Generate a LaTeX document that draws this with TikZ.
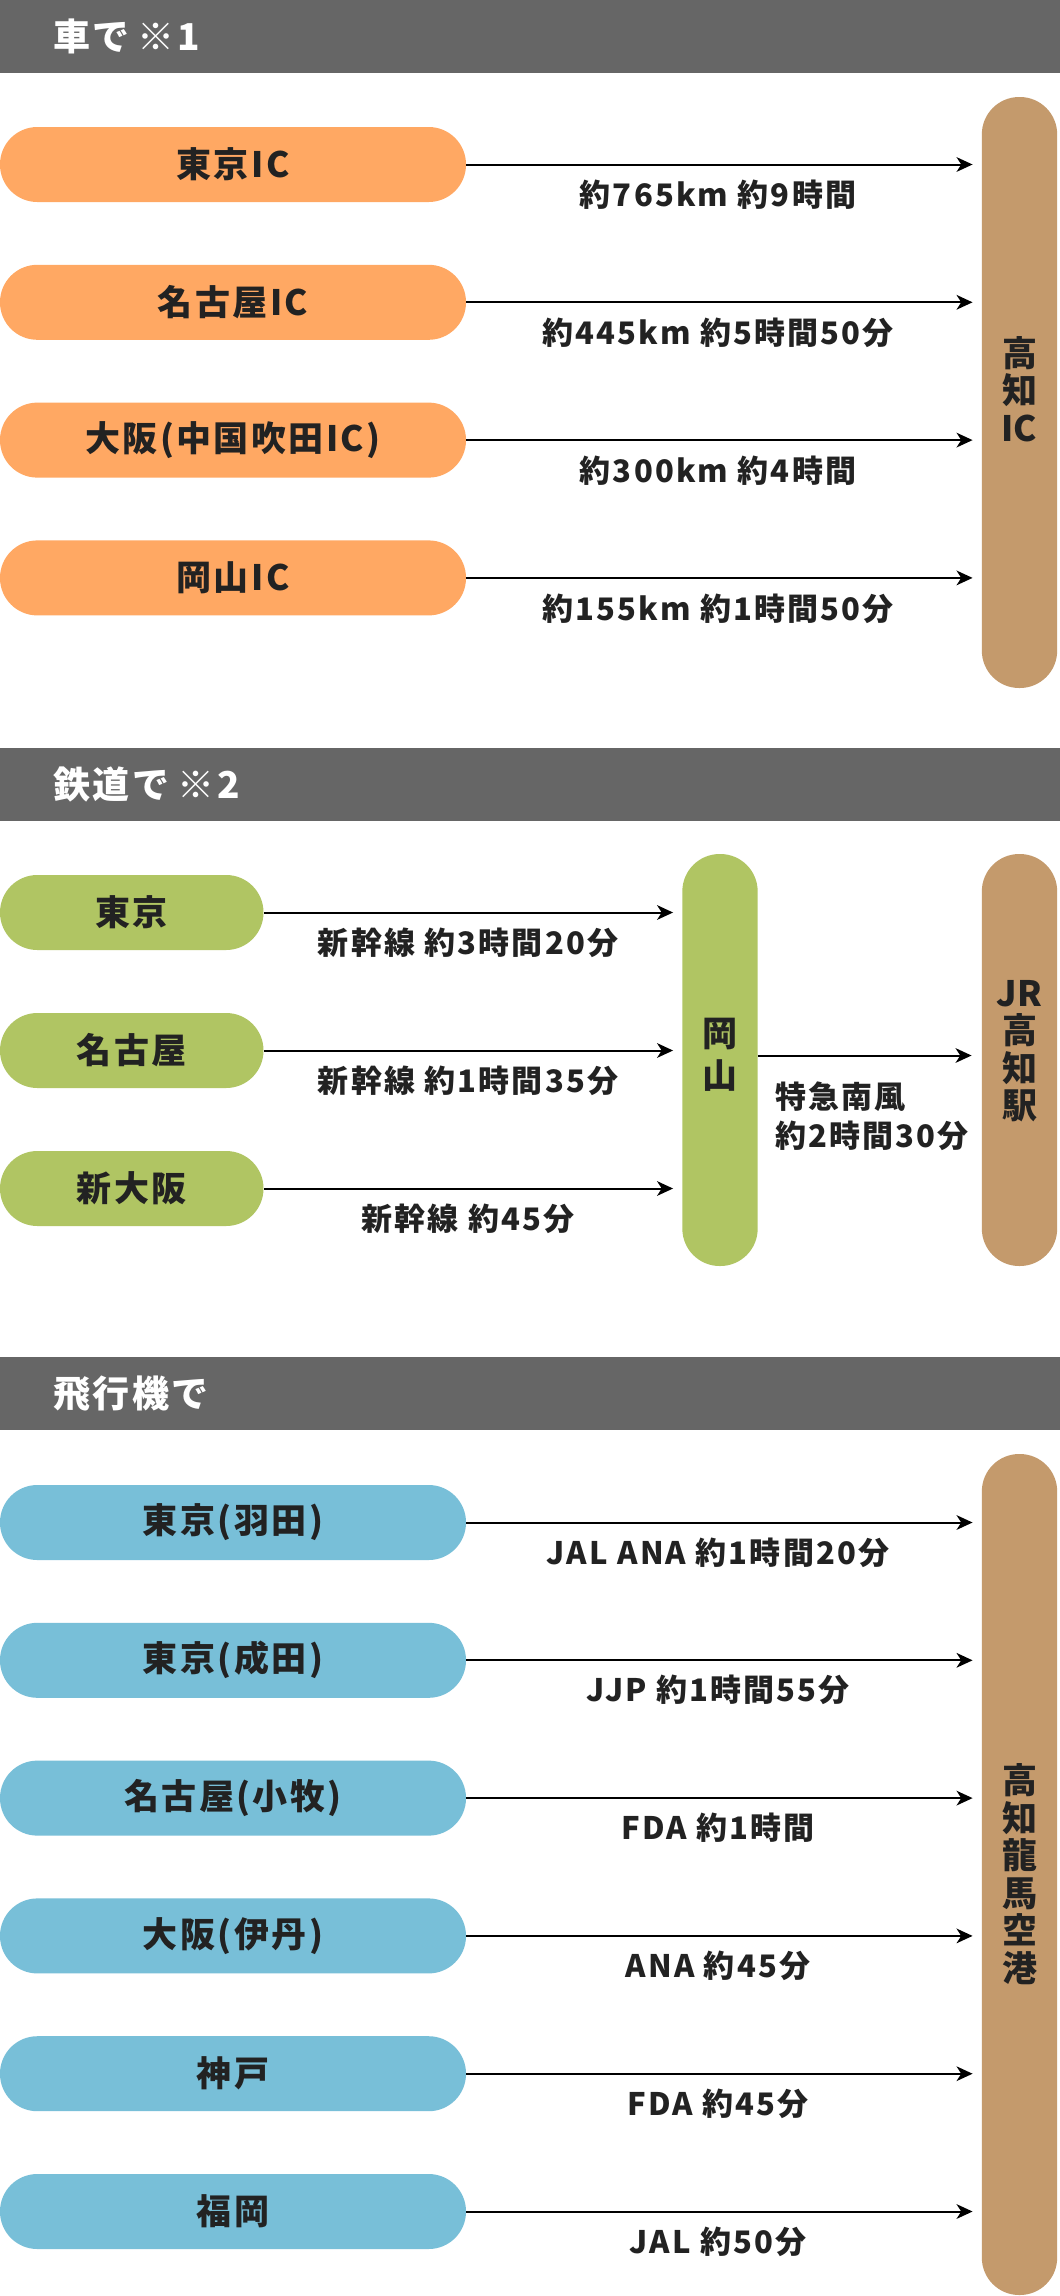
\documentclass[tikz,border=0pt]{standalone}
\usepackage{fontspec}
\setmainfont{Noto Sans CJK JP}
\newfontfamily\spacedfam{Noto Sans CJK JP}[LetterSpace=7]
\usetikzlibrary{arrows.meta,calc}
\definecolor{hdrgray}{HTML}{666666}
\definecolor{carorange}{HTML}{FFA863}
\definecolor{railgreen}{HTML}{B0C563}
\definecolor{airblue}{HTML}{78BFD8}
\definecolor{goalbrown}{HTML}{C49A6C}
\definecolor{inkc}{HTML}{222222}
\newcommand\hdrf{\spacedfam\bfseries\fontsize{27.75pt}{30pt}\selectfont}
\newcommand\pillf{\spacedfam\bfseries\fontsize{26.25pt}{28pt}\selectfont}
\newcommand\lblf{\spacedfam\bfseries\fontsize{23.25pt}{29.25pt}\selectfont}
\newcommand\barf{\bfseries\fontsize{26.25pt}{28.1pt}\selectfont}
\tikzset{
  hdrband/.style={fill=hdrgray, draw=none, minimum width=795pt, minimum height=54.75pt, anchor=north west, inner sep=0},
  hdrtxt/.style={anchor=west, text=white, font=\hdrf, inner sep=0},
  pillbox/.style={minimum height=56.25pt, rounded corners=28pt, inner sep=0, text=inkc, font=\pillf, draw=none},
  widepill/.style={pillbox, minimum width=349.5pt},
  narrowpill/.style={pillbox, minimum width=197.6pt},
  goalbar/.style={fill=goalbrown, rounded corners=28pt, draw=none, minimum width=56.5pt, inner sep=0},
  bartxt/.style={align=center, text=inkc, font=\barf, inner sep=0},
  arr/.style={-{Stealth[length=12pt,width=11pt,inset=3.5pt]}, line width=1.5pt, black, shorten >=6.75pt},
  lbl/.style={text=inkc, font=\lblf, inner sep=0},
}
\begin{document}
\begin{tikzpicture}[x=0.75pt,y=-0.75pt]
\useasboundingbox (0,0) rectangle (1060,2296);
\fill[white] (0,0) rectangle (1060,2296);

% ---------- car ----------
\node[hdrband] (h1) at (0,0) {};
\node[hdrtxt] (h1t) at (53,36.5) {車で\hspace{6pt}※1};
\node[goalbar, minimum height=443.25pt] (kic) at (1019.5,392.5) {};
\node[bartxt] (kict) at (1019.5,389) {高\\知\\IC};

\node[widepill, fill=carorange] (c1) at (233,164.5) {東京IC};
\node[widepill, fill=carorange] (c2) at (233,302.3) {名古屋IC};
\node[widepill, fill=carorange] (c3) at (233,440.1) {大阪(中国吹田IC)};
\node[widepill, fill=carorange] (c4) at (233,577.9) {岡山IC};
\foreach \n in {c1,c2,c3,c4} \draw[arr] (\n.east) -- (\n.east -| kic.west);
\node[lbl] (cl1) at (718,195) {約765km 約9時間};
\node[lbl] (cl2) at (718,332.8) {約445km 約5時間50分};
\node[lbl] (cl3) at (718,470.6) {約300km 約4時間};
\node[lbl] (cl4) at (718,608.4) {約155km 約1時間50分};

% ---------- rail ----------
\node[hdrband] (h2) at (0,748) {};
\node[hdrtxt] (h2t) at (53,784.5) {鉄道で\hspace{6pt}※2};
\node[goalbar, fill=railgreen, minimum height=309pt] (oka) at (720,1060) {};
\node[bartxt, font=\bfseries\fontsize{26.25pt}{31.5pt}\selectfont] (okat) at (720,1055) {岡\\山};
\node[goalbar, minimum height=309pt] (jr) at (1019.5,1060) {};
\node[bartxt] (jrt) at (1019.5,1051) {JR\\高\\知\\駅};

\node[narrowpill, fill=railgreen] (r1) at (131.75,912.5) {東京};
\node[narrowpill, fill=railgreen] (r2) at (131.75,1050.5) {名古屋};
\node[narrowpill, fill=railgreen] (r3) at (131.75,1188.5) {新大阪};
\foreach \n in {r1,r2,r3} \draw[arr] (\n.east) -- (\n.east -| oka.west);
\node[lbl] (rl1) at (468,942.5) {新幹線 約3時間20分};
\node[lbl] (rl2) at (468,1080.5) {新幹線 約1時間35分};
\node[lbl] (rl3) at (468,1218.5) {新幹線 約45分};
\draw[arr, shorten >=7.5pt] ($(oka.east)+(0,-4.5)$) -- ($(jr.west)+(0,-4.5)$);
\node[lbl, anchor=west, align=left] (rl4) at (775,1116.5) {特急南風\\約2時間30分};

% ---------- air ----------
\node[hdrband] (h3) at (0,1357) {};
\node[hdrtxt] (h3t) at (53,1393.5) {飛行機で};
\node[goalbar, minimum height=630.75pt] (kap) at (1019.5,1874.5) {};
\node[bartxt] (kapt) at (1019.5,1874) {高\\知\\龍\\馬\\空\\港};

\node[widepill, fill=airblue] (a1) at (233,1522.5) {東京(羽田)};
\node[widepill, fill=airblue] (a2) at (233,1660.3) {東京(成田)};
\node[widepill, fill=airblue] (a3) at (233,1798.1) {名古屋(小牧)};
\node[widepill, fill=airblue] (a4) at (233,1935.9) {大阪(伊丹)};
\node[widepill, fill=airblue] (a5) at (233,2073.7) {神戸};
\node[widepill, fill=airblue] (a6) at (233,2211.5) {福岡};
\foreach \n in {a1,a2,a3,a4,a5,a6} \draw[arr] (\n.east) -- (\n.east -| kap.west);
\node[lbl] (al1) at (718,1552.5) {JAL ANA 約1時間20分};
\node[lbl] (al2) at (718,1690.3) {JJP 約1時間55分};
\node[lbl] (al3) at (718,1828.1) {FDA 約1時間};
\node[lbl] (al4) at (718,1965.9) {ANA 約45分};
\node[lbl] (al5) at (718,2103.7) {FDA 約45分};
\node[lbl] (al6) at (718,2241.5) {JAL 約50分};
\end{tikzpicture}
\end{document}
